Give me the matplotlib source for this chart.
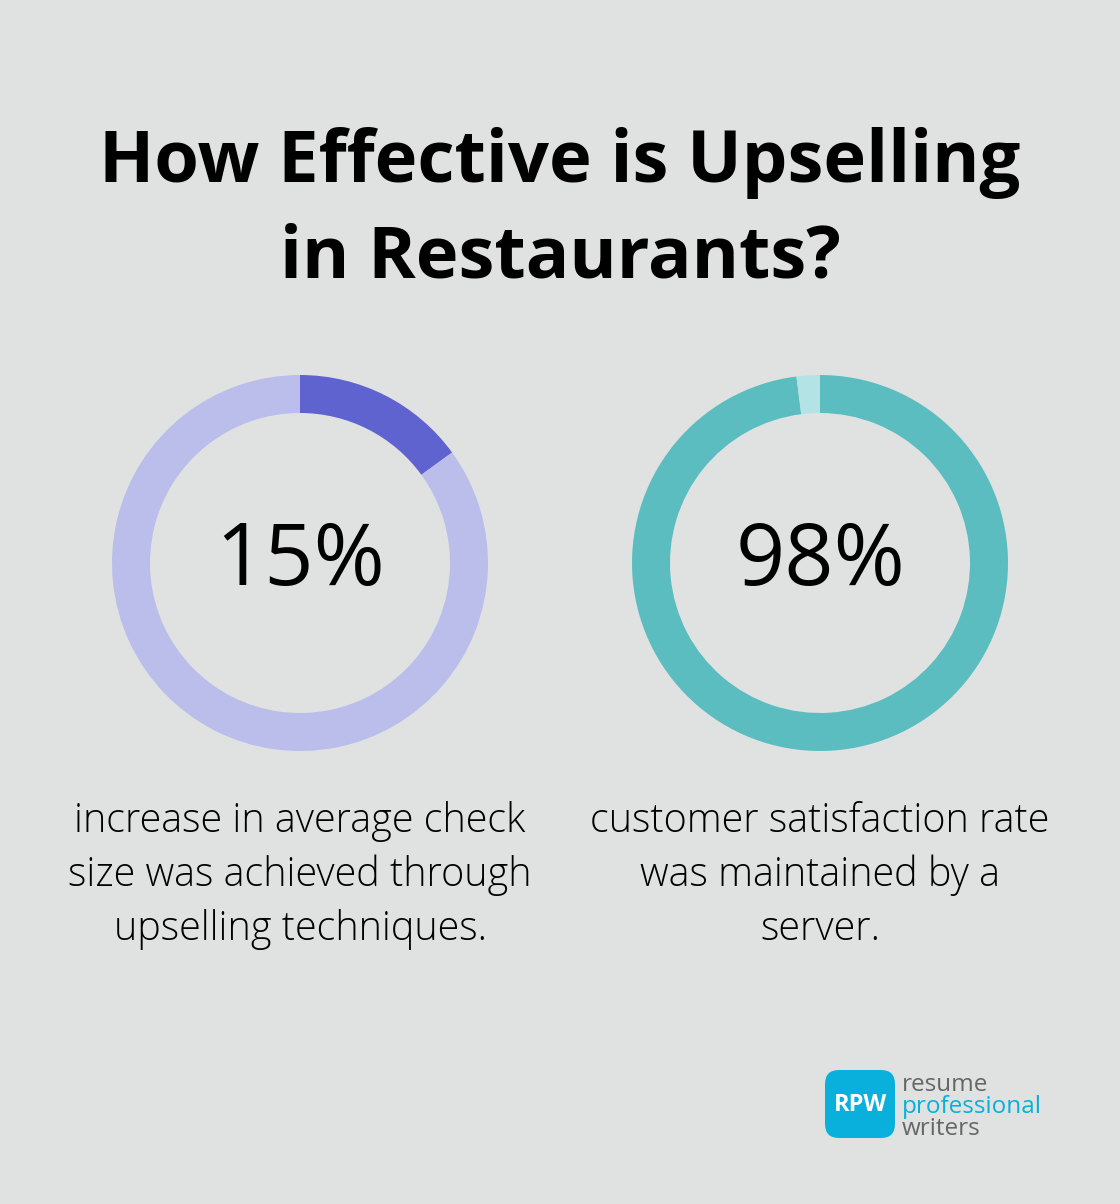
import matplotlib.pyplot as plt
from matplotlib.patches import FancyBboxPatch

W, H = 1120, 1204
BG = "#e0e2e1"

title_lines = ["How Effective is Upselling", "in Restaurants?"]
values = [15, 98]
labels = ["15%", "98%"]
captions = [
    ["increase in average check", "size was achieved through", "upselling techniques."],
    ["customer satisfaction rate", "was maintained by a", "server."],
]
main_colors = ["#5e63d0", "#5bbdc0"]
rest_colors = ["#bbbdeb", "#b3e3e5"]
centers_x = [300, 820]

fig = plt.figure(figsize=(W / 100, H / 100), dpi=100)
fig.patch.set_facecolor(BG)

def fx(px):
    return px / W

def fy(py):
    return 1 - py / H

# title
for i, line in enumerate(title_lines):
    fig.text(0.5, fy(163 + i * 95), line, ha="center", va="center",
             fontsize=52, fontweight="bold", family="Open Sans", color="#000000")

# donuts
R_OUT = 188
RING = 38
CY = 563
for i, v in enumerate(values):
    cx = centers_x[i]
    ax = fig.add_axes([fx(cx - R_OUT), fy(CY + R_OUT), 2 * R_OUT / W, 2 * R_OUT / H])
    ax.pie([v, 100 - v], colors=[main_colors[i], rest_colors[i]], startangle=90,
           counterclock=False, radius=1,
           wedgeprops=dict(width=RING / R_OUT, linewidth=0))
    ax.set_xlim(-1, 1)
    ax.set_ylim(-1, 1)
    ax.set_aspect("equal")
    ax.axis("off")
    fig.text(fx(cx), fy(CY), labels[i], ha="center", va="center",
             fontsize=62, fontweight="medium", family="Open Sans", color="#000000")
    for j, line in enumerate(captions[i]):
        fig.text(fx(cx), fy(821 + j * 54), line, ha="center", va="center",
                 fontsize=28.5, family="Open Sans", fontweight="light", color="#000000")

# logo
logo_ax = fig.add_axes([0, 0, 1, 1], facecolor="none")
logo_ax.set_xlim(0, W)
logo_ax.set_ylim(H, 0)
logo_ax.axis("off")
box = FancyBboxPatch((825, 1070), 70, 68, boxstyle="round,pad=0,rounding_size=14",
                     facecolor="#08b0db", edgecolor="none")
logo_ax.add_patch(box)
logo_ax.text(860, 1105, "RPW", ha="center", va="center", fontsize=17,
             fontweight="bold", family="Open Sans", color="white")
logo_words = ["resume", "professional", "writers"]
logo_colors = ["#666666", "#08b0db", "#666666"]
for k, word in enumerate(logo_words):
    logo_ax.text(902, 1085 + k * 22, word, ha="left", va="center", fontsize=17.5,
                 family="Open Sans", color=logo_colors[k])

fig.savefig("out.png", dpi=100, facecolor=BG)
